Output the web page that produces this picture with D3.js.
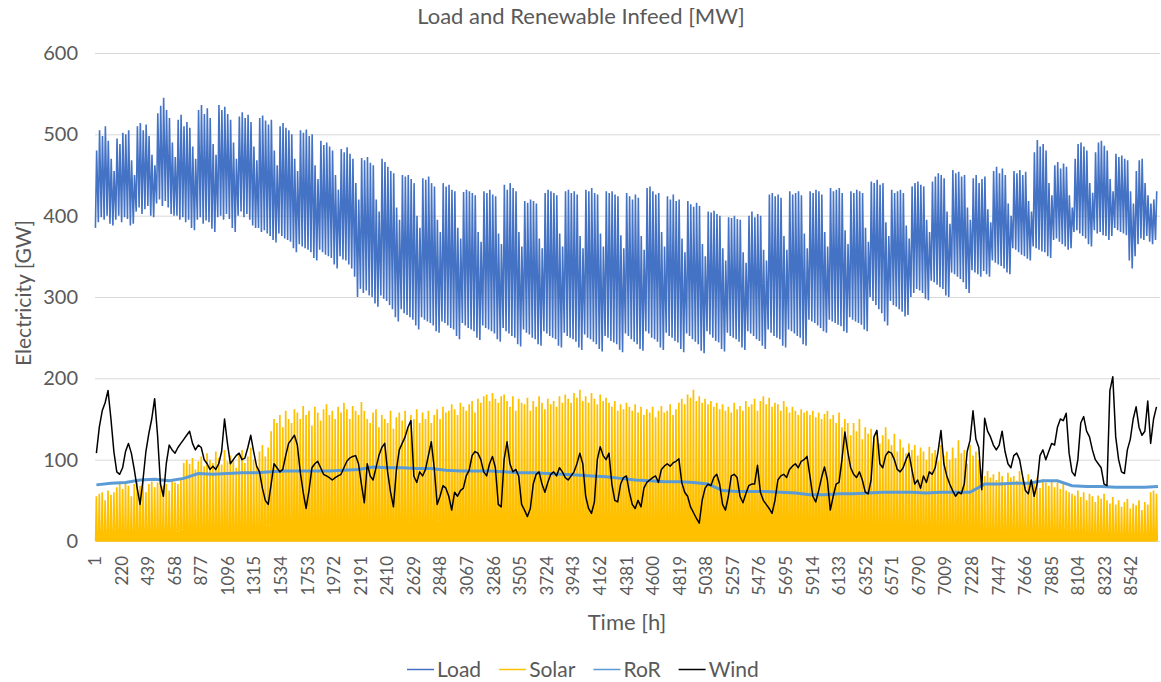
<!DOCTYPE html>
<html>
<head>
<meta charset="utf-8">
<script src="https://d3js.org/d3.v7.min.js"></script>
<style>
  body { margin:0; background:#fff; font-family: Lato, "Open Sans", sans-serif; }
  text { fill:#595959; }
</style>
</head>
<body>
<script>
// daily load maxima (GW), one row per week
var loadPeak = [
  480,505,498,510,492,470,455, 495,488,502,500,505,468,450, 510,514,505,512,498,475,462,
  526,535,545,530,520,490,472, 518,524,510,515,508,485,470, 530,536,525,532,520,488,475,
  536,530,534,525,518,490,470, 522,527,520,524,515,485,468, 520,523,517,512,518,480,462,
  510,514,508,505,500,470,455, 505,502,506,498,500,462,445, 492,487,490,485,480,450,432,
  482,478,484,476,470,440,420, 471,468,472,465,462,420,405, 470,466,460,455,452,410,395,
  450,448,450,445,440,400,385, 446,444,448,440,436,395,380, 440,436,438,432,430,385,372,
  429,432,430,428,425,380,368, 430,428,432,426,424,378,365, 438,432,440,434,430,380,362,
  418,416,420,418,415,372,360, 428,432,430,428,425,378,362, 430,432,428,430,426,375,360,
  432,430,434,428,426,378,362, 430,428,430,426,424,376,360, 428,424,420,426,422,375,358,
  434,436,430,426,428,380,362, 424,420,426,418,420,372,355, 418,414,411,416,412,365,350,
  405,404,406,402,400,360,345, 398,397,400,396,395,355,342, 400,405,398,402,400,358,345,
  426,428,424,426,422,375,358, 430,426,428,430,425,378,360, 430,428,432,430,426,380,362,
  434,430,432,434,428,382,365, 430,428,432,430,428,385,368, 442,440,444,438,440,392,375,
  432,428,430,432,428,388,372, 436,440,442,438,436,395,380, 442,448,452,450,446,405,390,
  456,452,454,448,450,410,395, 446,450,440,445,448,408,392, 455,460,452,458,450,415,400,
  455,452,456,450,454,418,405, 478,493,485,488,480,440,425, 462,466,458,464,460,425,410,
  470,488,490,485,480,440,428, 478,490,492,486,480,445,430, 476,472,474,470,468,430,415,
  455,468,470,440,425,415,420, 430
];
// daily load minima (GW)
var loadLow = [
  385,392,398,395,400,390,388, 395,400,392,398,396,388,390, 405,410,402,408,412,400,398,
  415,420,412,418,410,402,400, 400,395,398,392,395,385,382, 395,398,390,394,392,384,380,
  398,400,395,402,396,385,380, 400,405,398,402,395,388,385, 385,380,382,378,375,370,367,
  378,375,372,370,368,360,355, 365,362,360,358,355,348,345, 358,355,352,350,348,340,335,
  350,346,345,340,335,325,300, 310,305,308,302,300,292,288, 302,298,295,290,285,275,270,
  285,280,278,275,272,265,260, 275,272,270,268,265,258,256, 270,268,265,262,260,252,248,
  268,265,262,260,258,250,247, 265,262,260,258,255,248,245, 262,258,255,252,250,242,239,
  260,256,254,250,248,242,240, 258,255,252,250,248,240,238, 256,252,250,248,245,238,235,
  254,250,248,245,242,236,233, 252,250,246,244,242,235,232, 255,252,248,245,242,236,234,
  258,255,250,248,245,238,235, 256,252,250,246,244,236,232, 255,252,248,245,242,234,231,
  258,254,250,246,244,236,233, 256,252,250,248,245,238,235, 258,255,252,248,246,240,236,
  260,256,252,250,248,240,238, 260,258,255,252,250,242,240, 272,270,268,265,262,258,256,
  272,270,268,266,264,258,256, 275,272,270,268,266,260,258, 300,295,290,285,280,270,265,
  295,290,288,285,282,276,278, 300,305,310,308,305,298,296, 320,318,315,312,310,302,300,
  330,328,325,322,318,310,305, 333,330,328,325,332,328,325, 345,342,340,338,335,330,328,
  360,358,355,352,350,347,345, 362,360,358,356,355,350,348, 370,372,368,365,362,358,360,
  380,382,378,375,372,365,362, 382,378,380,376,375,370,375, 385,382,380,378,376,345,335,
  350,365,372,370,375,368,365, 370
];
// daily solar peaks (GW)
var solarPeak = [
  55,58,60,50,62,57,60, 66,70,64,72,68,55,70, 72,68,74,60,70,73,66, 72,75,68,70,62,74,72,
  70,75,96,100,95,102,88, 98,104,92,108,100,96,110, 102,94,112,98,105,100,90,
  108,112,96,104,115,100,92, 110,118,104,115,135,150,145, 155,140,160,150,145,162,158,
  150,166,155,160,142,165,158, 148,162,168,155,160,150,165, 158,170,162,150,166,160,155,
  171,160,150,145,158,162,140, 155,150,145,160,138,152,158, 148,160,140,155,150,162,145,
  158,150,160,145,155,162,150, 165,158,160,168,162,155,170, 165,160,168,172,158,175,170,
  178,180,172,182,175,170,178, 180,172,165,178,160,175,170, 168,176,160,172,165,178,170,
  162,175,168,172,165,178,170, 180,175,170,182,176,186,172, 178,170,182,175,168,180,172,
  176,170,165,172,160,168,162, 170,165,160,168,158,165,155, 162,158,165,152,160,166,158,
  160,168,155,162,170,175,168, 180,176,186,172,178,170,175, 168,172,165,170,162,168,160,
  165,158,170,162,166,160,172, 165,168,175,160,172,178,168, 176,165,170,168,160,172,165,
  158,165,160,155,162,158,160, 155,160,152,158,150,156,160, 150,155,145,158,140,150,145,
  130,145,135,150,125,140,132, 138,128,135,120,130,140,125, 118,132,110,125,115,108,120,
  112,118,105,115,110,100,116, 108,112,98,118,105,110,100, 115,102,124,108,112,95,118,
  105,110,100,88,80,86,78, 82,75,85,80,72,84,78, 80,74,86,78,70,82,75,
  70,78,65,76,72,68,74, 66,72,64,70,62,60,58, 56,62,54,60,50,58,55,
  48,56,52,58,50,46,54, 45,50,42,48,52,40,46, 44,50,38,48,45,60,62, 58
];
// daily wind (GW)
var windDaily = [
  108,140,160,170,185,150,110,85,82,90,   110,120,108,88,65,45,75,110,132,150,
  175,130,70,55,95,118,112,108,115,120,   125,130,135,120,112,118,115,100,95,88,
  92,88,95,110,150,120,95,100,105,108,    100,102,115,130,110,92,85,65,50,45,
  70,95,90,85,88,105,120,125,130,118,     85,60,40,62,90,95,98,90,82,80,
  78,75,78,80,82,90,98,102,104,105,       95,70,47,95,80,75,90,105,115,120,
  85,60,42,87,112,120,128,140,148,80,     72,85,80,88,105,122,90,45,55,68,
  65,55,38,60,55,62,65,80,87,105,         110,108,100,85,80,95,104,90,45,42,
  100,122,95,85,88,80,45,38,30,40,        70,82,85,70,60,72,82,85,80,90,
  85,78,75,80,85,95,108,95,55,40,         34,48,100,116,105,100,108,70,50,48,
  70,78,80,60,45,40,50,42,65,72,          75,78,80,72,88,92,95,92,96,98,
  101,72,60,55,42,35,28,22,50,65,         70,68,78,82,70,45,38,55,80,82,
  78,55,47,58,68,70,70,93,60,50,          45,40,34,50,75,80,82,78,88,92,
  95,90,98,100,104,80,55,48,62,78,        91,75,38,55,70,72,100,134,110,90,
  82,78,85,75,60,58,75,128,136,95,        90,105,110,108,100,88,85,90,100,108,
  88,70,75,65,80,72,85,82,90,110,         136,95,80,70,62,55,60,58,70,110,
  124,160,125,115,63,151,135,128,118,112, 118,135,110,95,90,105,108,100,80,62,
  58,75,55,70,105,112,100,110,120,118,    140,150,148,157,108,85,80,100,145,153,
  135,128,112,100,95,90,70,68,185,202,    128,100,85,83,112,125,150,165,140,130,
  135,172,120,150,165
];
// run-of-river (GW), one reading every 5 days
var rorEvery5 = [
  69,71,72,75,76,74,77,83,82,83,84,84,85,86,86,86,86,87,88,91,
  90,90,89,89,87,86,86,86,85,84,84,83,82,81,80,79,77,75,74,73,
  73,72,70,62,61,61,61,60,59,57,57,58,58,59,60,60,60,59,60,60,
  60,70,70,71,71,74,74,68,67,67,66,66,66,67
];
var yTicks = [0, 100, 200, 300, 400, 500, 600];
var xTicks = [1,220,439,658,877,1096,1315,1534,1753,1972,2191,2410,2629,2848,3067,3286,
  3505,3724,3943,4162,4381,4600,4819,5038,5257,5476,5695,5914,6133,6352,6571,6790,
  7009,7228,7447,7666,7885,8104,8323,8542];
var series = ["Load", "Solar", "RoR", "Wind"];
var colors = ["#4472C4", "#FFC000", "#5B9BD5", "#000000"];

var W = 1161, H = 682;
var svg = d3.select("body").append("svg").attr("width", W).attr("height", H);

var x = d3.scaleLinear().domain([0.5, 8760.5]).range([95, 1158]);
var y = d3.scaleLinear().domain([0, 600]).range([541, 53]);

// gridlines
svg.append("g").selectAll("line").data(yTicks).enter().append("line")
  .attr("x1", 95).attr("x2", 1160)
  .attr("y1", function(d){ return y(d) + 0.5; }).attr("y2", function(d){ return y(d) + 0.5; })
  .attr("stroke", "#d9d9d9").attr("stroke-width", 1);

// y tick labels
svg.append("g").selectAll("text").data(yTicks).enter().append("text")
  .attr("x", 78).attr("y", function(d){ return y(d); })
  .attr("dy", "0.35em").attr("text-anchor", "end")
  .style("font-size", "20px")
  .text(function(d){ return d; });

// x tick labels (rotated)
svg.append("g").selectAll("text").data(xTicks).enter().append("text")
  .attr("transform", function(d){ return "translate(" + x(d) + ",556) rotate(-90)"; })
  .attr("dy", "0.35em").attr("text-anchor", "end")
  .style("font-size", "17px")
  .text(function(d){ return d; });

var line = d3.line().x(function(p){ return x(p[0]); }).y(function(p){ return y(p[1]); });

// build hourly positions from the daily readings
var loadPts = [];
loadPeak.forEach(function(v, d){
  if (loadLow[d] !== undefined) loadPts.push([d * 24 + 4, loadLow[d]]);
  loadPts.push([d * 24 + 14, v]);
});
var solarPts = [];
solarPeak.forEach(function(v, d){
  solarPts.push([d * 24 + 6, 0]);
  solarPts.push([d * 24 + 12, v]);
  solarPts.push([d * 24 + 18, 0]);
});
var rorPts = rorEvery5.map(function(v, i){ return [Math.min(i * 5 * 24 + 12, 8760), v]; });
var windPts = windDaily.map(function(v, d){ return [d * 24 + 12, v]; });

var g = svg.append("g");
g.append("path").attr("d", line(loadPts)).attr("fill", "none")
  .attr("stroke", colors[0]).attr("stroke-width", 1.6);
g.append("path").attr("d", line(solarPts)).attr("fill", "none")
  .attr("stroke", colors[1]).attr("stroke-width", 1.7);
g.append("path").attr("d", line(rorPts)).attr("fill", "none")
  .attr("stroke", colors[2]).attr("stroke-width", 3);
g.append("path").attr("d", line(windPts)).attr("fill", "none")
  .attr("stroke", colors[3]).attr("stroke-width", 1.5).attr("stroke-linejoin", "round");

// titles
svg.append("text").attr("x", 581).attr("y", 24).attr("text-anchor", "middle")
  .style("font-size", "22px").text("Load and Renewable Infeed [MW]");
svg.append("text").attr("transform", "translate(31,293) rotate(-90)")
  .attr("text-anchor", "middle").style("font-size", "21px").text("Electricity [GW]");
svg.append("text").attr("x", 627).attr("y", 630).attr("text-anchor", "middle")
  .style("font-size", "22px").text("Time [h]");

// legend
var leg = svg.append("g");
var cx = 407;
series.forEach(function(name, i){
  leg.append("line").attr("x1", cx).attr("x2", cx + 27)
    .attr("y1", 669.5).attr("y2", 669.5)
    .attr("stroke", colors[i]).attr("stroke-width", 1.5);
  var t = leg.append("text").attr("x", cx + 30).attr("y", 677)
    .style("font-size", "21px").text(name);
  cx += 30 + t.node().getComputedTextLength() + 18;
});
</script>
</body>
</html>
